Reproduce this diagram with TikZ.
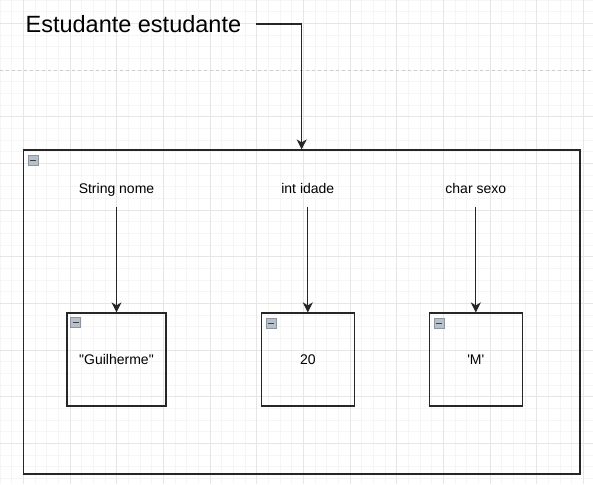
\documentclass[tikz,border=0pt]{standalone}
\usepackage{fontspec}
\setmainfont{Liberation Sans}[Ligatures=TeXOff]
\usetikzlibrary{arrows.meta}
\definecolor{gradefina}{HTML}{F5F5F5}
\definecolor{gradeforte}{HTML}{E6E6E6}
\definecolor{quebra}{HTML}{CCCCCC}
\definecolor{icone}{HTML}{B8C0CA}
\definecolor{iconeborda}{HTML}{8C95A0}

\begin{document}
\begin{tikzpicture}[x=1pt,y=-1pt,->,>={Stealth[length=10pt,width=10pt,inset=3pt]},line width=1.2pt,
  caixa/.style={draw=black!85,minimum width=93pt,minimum height=93pt,inner sep=0pt,font=\fontsize{14}{16}\selectfont},
  rotulo/.style={inner xsep=0pt,inner ysep=10pt,text height=10pt,text depth=3pt,font=\fontsize{14}{16}\selectfont},
  mini/.style={draw=iconeborda,fill=icone,line width=0.8pt,minimum width=10pt,minimum height=9.5pt,inner sep=0pt,anchor=north west,
    path picture={\draw[-,line width=1.8pt,black!75] ([xshift=1.8pt]path picture bounding box.west) -- ([xshift=-1.8pt]path picture bounding box.east);}}]
  \useasboundingbox (0,0) rectangle (593,484);

  % grade de fundo
  \begin{scope}[-,line width=0.5pt]
    \foreach \i in {0,...,51} \draw[gradefina] (\i*11.6667,0) -- (\i*11.6667,484);
    \foreach \i in {0,...,41} \draw[gradefina] (0,\i*11.6667) -- (593,\i*11.6667);
    \foreach \i in {0,...,12} \draw[gradeforte] (23.3333+\i*46.6667,0) -- (23.3333+\i*46.6667,484);
    \foreach \i in {0,2,3,...,10} \draw[gradeforte] (0,23.3333+\i*46.6667) -- (593,23.3333+\i*46.6667);
    \draw[quebra,dash pattern=on 3pt off 3pt] (0,70) -- (593,70);
  \end{scope}

  \node[anchor=west,inner sep=0pt,font=\fontsize{23.5}{26}\selectfont] (titulo) at (25,24) {Estudante estudante};
  \node[draw=black!85,minimum width=556.7pt,minimum height=324pt,inner sep=0pt] (estudante) at (301.65,312) {};
  \node[mini] (m0) at ([shift={(5,6)}]estudante.north west) {};

  \node[rotulo] (nome) at (116.5,189.5) {String nome};
  \node[rotulo] (idade) at (307.8,189.5) {int idade};
  \node[rotulo] (sexo) at (475.8,189.5) {char sexo};

  \node[caixa,minimum width=99pt] (vnome) at (116.5,359.5) {"Guilherme"};
  \node[caixa] (vidade) at (307.8,359.5) {20};
  \node[caixa] (vsexo) at (475.8,359.5) {'M'};
  \node[mini] (m1) at ([shift={(4,5)}]vnome.north west) {};
  \node[mini] (m2) at ([shift={(5,6)}]vidade.north west) {};
  \node[mini] (m3) at ([shift={(5,6)}]vsexo.north west) {};

  \draw[black!85] ([xshift=14pt]titulo.east) -| (estudante.north);
\path[black!85]
  (nome) edge (vnome)
  (idade) edge (vidade)
  (sexo) edge (vsexo)
;
\end{tikzpicture}
\end{document}
